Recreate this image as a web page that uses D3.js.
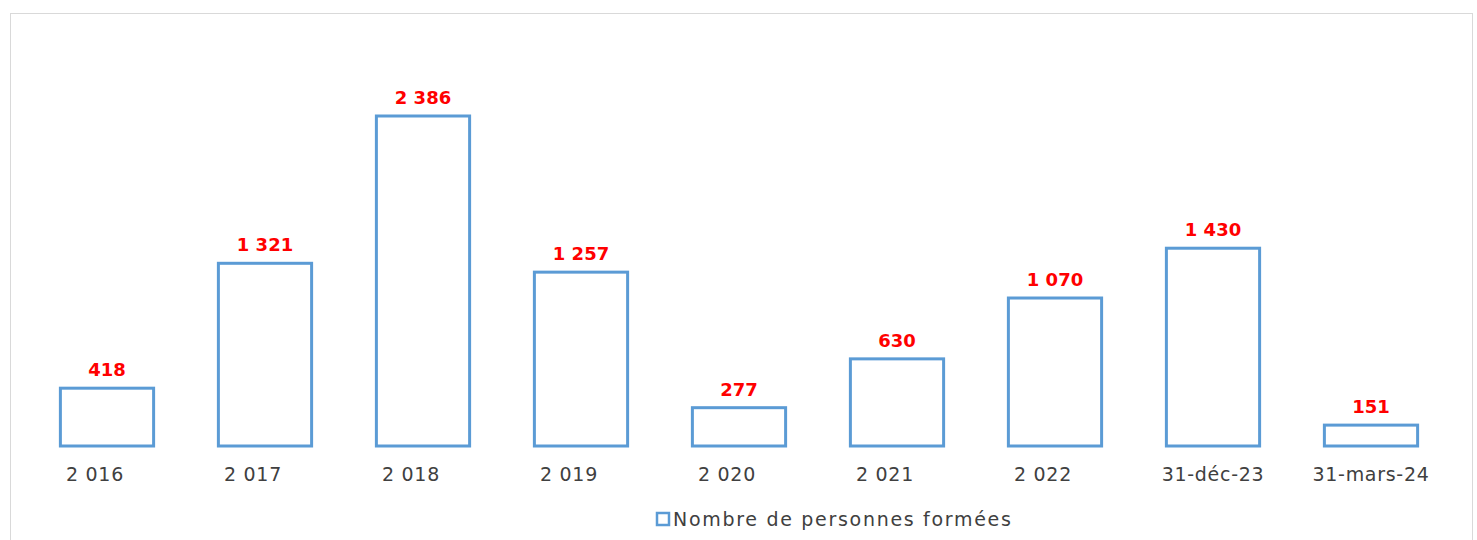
<!DOCTYPE html>
<html>
<head>
<meta charset="utf-8">
<script src="https://cdn.jsdelivr.net/npm/d3@7.9.0/dist/d3.min.js"></script>
<style>
  body { margin: 0; background: #fff; }
  svg { display: block; font-family: "DejaVu Sans", sans-serif; }
</style>
</head>
<body>
<svg id="chart" width="1477" height="540"></svg>
<script>
const categories = ['2 016', '2 017', '2 018', '2 019', '2 020', '2 021', '2 022', '31-déc-23', '31-mars-24'];
const values = [418, 1321, 2386, 1257, 277, 630, 1070, 1430, 151];
const valueLabels = ['418', '1 321', '2 386', '1 257', '277', '630', '1 070', '1 430', '151'];
const seriesName = 'Nombre de personnes formées';

const blue = '#5b9bd5';
const svg = d3.select('#chart');

// chart frame
svg.append('rect')
  .attr('x', 10.5).attr('y', 13.5)
  .attr('width', 1462).attr('height', 540)
  .attr('fill', '#fff')
  .attr('stroke', '#d9d9d9')
  .attr('stroke-width', 1);

const x = d3.scaleBand()
  .domain(categories)
  .range([28, 1450])
  .paddingInner(0.41)
  .paddingOuter(0.205);

const y = d3.scaleLinear()
  .domain([0, 2386])
  .range([446, 116]);

const bars = svg.append('g');
bars.selectAll('rect')
  .data(values)
  .join('rect')
  .attr('x', (d, i) => x(categories[i]))
  .attr('y', d => y(d))
  .attr('width', x.bandwidth())
  .attr('height', d => y(0) - y(d))
  .attr('fill', '#fff')
  .attr('stroke', blue)
  .attr('stroke-width', 3);

bars.selectAll('text')
  .data(values)
  .join('text')
  .attr('x', (d, i) => x(categories[i]) + x.bandwidth() / 2)
  .attr('y', d => y(d) - 12)
  .attr('text-anchor', 'middle')
  .attr('fill', '#ff0000')
  .attr('font-weight', 'bold')
  .attr('font-size', 18)
  .text((d, i) => valueLabels[i]);

const xAxis = svg.append('g')
  .attr('transform', `translate(0,${y(0)})`)
  .call(d3.axisBottom(x).tickSize(0).tickPadding(22));
xAxis.select('.domain').remove();
// year labels sit a little left of the bar centre (padded number format)
xAxis.selectAll('text')
  .attr('font-size', 19)
  .attr('letter-spacing', 0.7)
  .attr('dx', d => /^\d \d+$/.test(d) ? -12 : 0)
  .attr('fill', '#404040')
  .attr('font-family', '"DejaVu Sans", sans-serif');

// legend
const legend = svg.append('g').attr('transform', 'translate(657,513)');
legend.append('rect')
  .attr('x', 0).attr('y', 0)
  .attr('width', 12).attr('height', 12)
  .attr('fill', '#fff')
  .attr('stroke', blue)
  .attr('stroke-width', 2.5);
legend.append('text')
  .attr('x', 16).attr('y', 13)
  .attr('font-size', 19)
  .attr('letter-spacing', 1.7)
  .attr('fill', '#404040')
  .text(seriesName);
</script>
</body>
</html>
